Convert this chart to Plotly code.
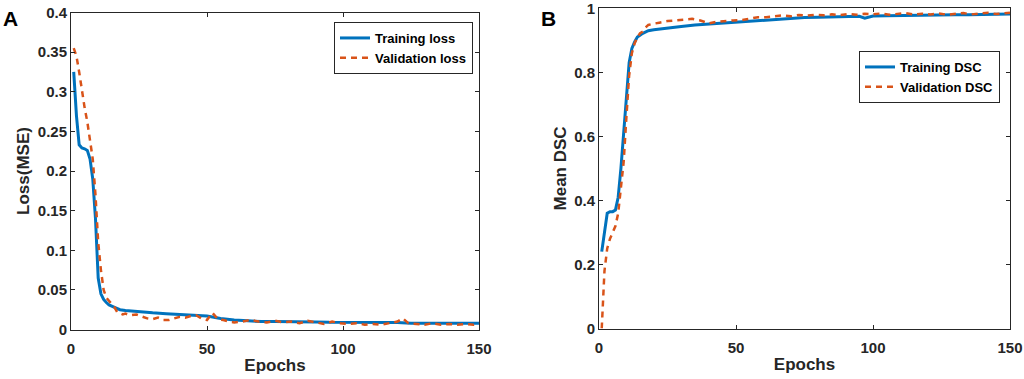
import plotly.graph_objects as go

# ---------------- data ----------------
train_loss_epochs = [1, 2, 3, 4, 5, 6, 7, 8, 9, 10, 11, 12, 13, 14, 16, 18, 20, 23, 26, 30,
                     35, 40, 45, 50, 55, 60, 65, 70, 75, 80, 85, 90, 95, 100, 105, 110, 115,
                     120, 125, 130, 135, 140, 145, 150]
train_loss = [0.325, 0.27, 0.233, 0.229, 0.228, 0.226, 0.215, 0.19, 0.14, 0.065, 0.045, 0.038,
              0.034, 0.031, 0.028, 0.025, 0.024, 0.023, 0.022, 0.021, 0.020, 0.019, 0.018,
              0.017, 0.014, 0.012, 0.011, 0.010, 0.010, 0.010, 0.0095, 0.0095, 0.009, 0.009,
              0.0088, 0.0088, 0.0085, 0.0088, 0.008, 0.008, 0.008, 0.0078, 0.0078, 0.008]

val_loss_epochs = [1, 2, 3, 4, 5, 6, 7, 8, 9, 10, 11, 12, 13, 14, 15, 16, 17, 18, 19, 20,
                   22, 24, 26, 28, 30, 32, 34, 36, 38, 40, 42, 44, 46, 48, 50, 52, 54, 56, 58,
                   60, 63, 66, 69, 72, 75, 78, 81, 84, 87, 90, 93, 96, 99, 102, 105, 108, 111,
                   114, 117, 120, 122, 124, 127, 130, 133, 136, 139, 142, 145, 148, 150]
val_loss = [0.355, 0.345, 0.325, 0.30, 0.28, 0.262, 0.24, 0.215, 0.17, 0.11, 0.075, 0.05,
            0.04, 0.036, 0.033, 0.028, 0.022, 0.02, 0.019, 0.02,
            0.018, 0.019, 0.016, 0.014, 0.013, 0.015, 0.012, 0.012, 0.014, 0.016, 0.015, 0.017,
            0.018, 0.014, 0.012, 0.021, 0.013, 0.012, 0.01,
            0.009, 0.01, 0.012, 0.01, 0.009, 0.011, 0.009, 0.01, 0.008, 0.011, 0.009, 0.007,
            0.01, 0.008, 0.007, 0.008, 0.006, 0.007, 0.006, 0.008, 0.01, 0.014, 0.008, 0.007,
            0.006, 0.008, 0.006, 0.007, 0.006, 0.007, 0.006, 0.008]

train_dsc_epochs = [1, 2, 3, 4, 5, 6, 7, 8, 9, 10, 11, 12, 13, 14, 16, 18, 20, 25, 30, 35, 40,
                    45, 50, 55, 60, 65, 70, 75, 80, 85, 90, 95, 97, 100, 105, 110, 115, 120,
                    125, 130, 135, 140, 145, 150]
train_dsc = [0.24, 0.30, 0.36, 0.365, 0.365, 0.37, 0.41, 0.50, 0.60, 0.72, 0.83, 0.875, 0.895,
             0.91, 0.922, 0.93, 0.933, 0.937, 0.943, 0.948, 0.951, 0.954, 0.956, 0.96, 0.963,
             0.966, 0.969, 0.971, 0.972, 0.973, 0.974, 0.975, 0.969, 0.976, 0.977, 0.978, 0.978,
             0.979, 0.979, 0.98, 0.98, 0.981, 0.981, 0.982]

val_dsc_epochs = [1, 2, 3, 4, 5, 6, 7, 8, 9, 10, 11, 12, 13, 14, 15, 16, 17, 18, 19, 20,
                  22, 25, 28, 31, 34, 37, 40, 43, 46, 49, 52, 55, 58, 61, 64, 67, 70, 73, 76,
                  79, 82, 85, 88, 91, 94, 97, 100, 103, 106, 109, 112, 115, 118, 121, 124, 127,
                  130, 133, 136, 139, 142, 145, 148, 150]
val_dsc = [0.0, 0.18, 0.25, 0.28, 0.30, 0.32, 0.36, 0.44, 0.52, 0.66, 0.79, 0.86, 0.89, 0.91,
           0.922, 0.927, 0.94, 0.948, 0.951, 0.952,
           0.955, 0.96, 0.962, 0.965, 0.967, 0.962, 0.953, 0.958, 0.961, 0.962, 0.963, 0.968,
           0.972, 0.972, 0.976, 0.978, 0.975, 0.979, 0.977, 0.98, 0.978, 0.981, 0.979, 0.982,
           0.98, 0.983, 0.981, 0.984, 0.98, 0.982, 0.985, 0.98, 0.983, 0.981, 0.984, 0.98,
           0.982, 0.985, 0.981, 0.984, 0.986, 0.982, 0.985, 0.986]

x_ticks = [0, 50, 100, 150]
loss_ticks = [0, 0.05, 0.1, 0.15, 0.2, 0.25, 0.3, 0.35, 0.4]
loss_tick_text = ["0", "0.05", "0.1", "0.15", "0.2", "0.25", "0.3", "0.35", "0.4"]
dsc_ticks = [0, 0.2, 0.4, 0.6, 0.8, 1.0]
dsc_tick_text = ["0", "0.2", "0.4", "0.6", "0.8", "1"]

# ---------------- styling ----------------
BLUE = "#0072BD"
ORANGE = "#D95319"
AXC = "#262626"
FONT = "Liberation Sans, Arial, sans-serif"
W, H = 1024, 379

fig = go.Figure()
fig.add_trace(go.Scatter(x=train_loss_epochs, y=train_loss, mode="lines", name="Training loss",
                         line=dict(color=BLUE, width=3), xaxis="x", yaxis="y", legend="legend"))
fig.add_trace(go.Scatter(x=val_loss_epochs, y=val_loss, mode="lines", name="Validation loss",
                         line=dict(color=ORANGE, width=2.5, dash="6px,5px"),
                         xaxis="x", yaxis="y", legend="legend"))
fig.add_trace(go.Scatter(x=train_dsc_epochs, y=train_dsc, mode="lines", name="Training DSC",
                         line=dict(color=BLUE, width=3), xaxis="x2", yaxis="y2", legend="legend2"))
fig.add_trace(go.Scatter(x=val_dsc_epochs, y=val_dsc, mode="lines", name="Validation DSC",
                         line=dict(color=ORANGE, width=2.5, dash="6px,5px"),
                         xaxis="x2", yaxis="y2", legend="legend2"))

tickfont = dict(family=FONT, size=15, color=AXC, weight="bold")
titlefont = dict(family=FONT, size=17, color=AXC, weight="bold")

def xax(domain, anchor):
    return dict(domain=domain, anchor=anchor, range=[0, 150], tickvals=x_ticks,
                ticks="inside", ticklen=4, tickcolor=AXC, showline=True, linecolor=AXC,
                linewidth=1, mirror="ticks", showgrid=False, zeroline=False, automargin=False,
                ticklabelstandoff=5, ticklabeloverflow="allow",
                tickfont=tickfont, title=dict(text="Epochs", font=titlefont, standoff=3))

def yax(domain, anchor, rng, tv, tt, title):
    return dict(domain=domain, anchor=anchor, range=rng, tickvals=tv, ticktext=tt,
                ticks="inside", ticklen=4, tickcolor=AXC, showline=True, linecolor=AXC,
                linewidth=1, mirror="ticks", showgrid=False, zeroline=False, automargin=False,
                ticklabeloverflow="allow",
                tickfont=tickfont, title=dict(text=title, font=titlefont, standoff=3))

legfont = dict(family=FONT, size=13, color="#000000", weight="bold")

fig.update_layout(
    width=W, height=H,
    margin=dict(l=0, r=0, t=0, b=0),
    paper_bgcolor="white", plot_bgcolor="white",
    xaxis=xax([71 / W, 479 / W], "y"),
    yaxis=yax([1 - 329.5 / H, 1 - 12.5 / H], "x", [0, 0.4], loss_ticks, loss_tick_text, "Loss(MSE)"),
    xaxis2=xax([599 / W, 1010 / W], "y2"),
    yaxis2=yax([1 - 328.5 / H, 1 - 8.3 / H], "x2", [0, 1], dsc_ticks, dsc_tick_text, "Mean DSC"),
    legend=dict(x=473 / W, y=1 - 22 / H, xanchor="right", yanchor="top", bgcolor="white",
                bordercolor=AXC, borderwidth=1, font=legfont, tracegroupgap=0,
                itemwidth=30),
    legend2=dict(x=1000 / W, y=1 - 51 / H, xanchor="right", yanchor="top", bgcolor="white",
                 bordercolor=AXC, borderwidth=1, font=legfont, tracegroupgap=0,
                 itemwidth=30),
    annotations=[
        dict(text="A", x=1 / W, y=1 - 5 / H, xref="paper", yref="paper", xanchor="left",
             yanchor="top", showarrow=False,
             font=dict(family=FONT, size=21, color="#000000", weight="bold")),
        dict(text="B", x=539 / W, y=1 - 5 / H, xref="paper", yref="paper", xanchor="left",
             yanchor="top", showarrow=False,
             font=dict(family=FONT, size=21, color="#000000", weight="bold")),
    ],
)

fig.write_html("out.html", config={"displayModeBar": False},
               post_script="document.body.style.margin='0';document.body.style.overflow='hidden';")
